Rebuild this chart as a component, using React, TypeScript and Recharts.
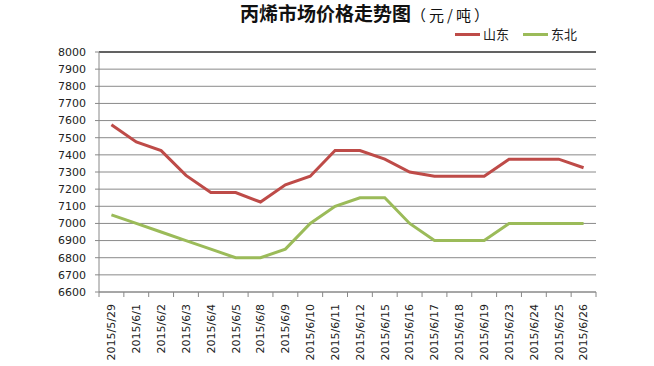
import React from "react";
import { LineChart, Line, XAxis, YAxis, CartesianGrid, ReferenceLine } from "recharts";

const dates = ["2015/5/29","2015/6/1","2015/6/2","2015/6/3","2015/6/4","2015/6/5","2015/6/8","2015/6/9","2015/6/10","2015/6/11","2015/6/12","2015/6/15","2015/6/16","2015/6/17","2015/6/18","2015/6/19","2015/6/23","2015/6/24","2015/6/25","2015/6/26"];
const shandong = [7575,7475,7425,7280,7180,7180,7125,7225,7275,7425,7425,7375,7300,7275,7275,7275,7375,7375,7375,7325];
const dongbei = [7050,7000,6950,6900,6850,6800,6800,6850,7000,7100,7150,7150,7000,6900,6900,6900,7000,7000,7000,7000];
const yTicks = [6600,6700,6800,6900,7000,7100,7200,7300,7400,7500,7600,7700,7800,7900,8000];
const titleMain = "丙烯市场价格走势图";
const titleUnit = "（元/吨）";
const series = [
  { name: "山东", color: "#BE4B48" },
  { name: "东北", color: "#9BBB59" },
];

const data = dates.map((d, i) => ({ date: d, 山东: shandong[i], 东北: dongbei[i] }));

const W = 654, H = 366;
const M = { top: 52, right: 58, bottom: 0, left: 0 };
const YW = 99;
const XH = 74;
const plotW = W - M.left - M.right - YW;
const half = plotW / dates.length / 2;

const XTick = (props: any) => {
  const { x, y, payload, index } = props;
  return (
    <g>
      <line x1={x - half} y1={y - 8} x2={x - half} y2={y - 3} stroke="#888" />
      {index === dates.length - 1 && <line x1={x + half} y1={y - 8} x2={x + half} y2={y - 3} stroke="#888" />}
      <text transform={`translate(${x},${y + 4}) rotate(-90)`} textAnchor="end" dy="0.35em" fontSize={11} fill="#222" fontFamily="DejaVu Sans">
        {payload.value}
      </text>
    </g>
  );
};

export default function App() {
  return (
    <div style={{ position: "absolute", left: 0, top: 0, width: W, height: H, background: "#fff" }}>
      <div style={{ position: "absolute", left: 240, top: 2, fontFamily: "Noto Sans CJK SC", color: "#111", whiteSpace: "nowrap", lineHeight: "21px" }}>
        <span style={{ fontSize: 19, fontWeight: "bold" }}>{titleMain}</span>
        <span style={{ fontSize: 15, letterSpacing: "3px" }}>{titleUnit}</span>
      </div>
      <div style={{ position: "absolute", left: 455, top: 24, display: "flex", fontFamily: "Noto Sans CJK SC", fontSize: 13, color: "#222", lineHeight: "20px" }}>
        {series.map((s) => (
          <div key={s.name} style={{ display: "flex", alignItems: "center", marginRight: 14 }}>
            <div style={{ width: 25, height: 3, background: s.color, marginRight: 3 }} />
            <span>{s.name}</span>
          </div>
        ))}
      </div>
      <LineChart width={W} height={H} data={data} margin={M}>
        <CartesianGrid vertical={false} stroke="#8a8a8a" />
        <XAxis dataKey="date" interval={0} tickLine={false} axisLine={{ stroke: "#888" }} tick={<XTick />} height={XH}
          padding={{ left: half, right: half }} />
        <YAxis domain={[6600, 8000]} ticks={yTicks} interval={0} width={YW} tickSize={4} tickMargin={9}
          axisLine={{ stroke: "#888" }} tickLine={{ stroke: "#888" }}
          tick={{ fontSize: 11, fill: "#222", fontFamily: "DejaVu Sans" }} />
        <YAxis yAxisId="r" orientation="right" width={0} tick={false} tickLine={false} axisLine={{ stroke: "#000" }} />
        <ReferenceLine y={8000} stroke="#000" />
        {series.map((s) => (
          <Line key={s.name} dataKey={s.name} stroke={s.color} strokeWidth={3} dot={false} isAnimationActive={false} />
        ))}
      </LineChart>
    </div>
  );
}
